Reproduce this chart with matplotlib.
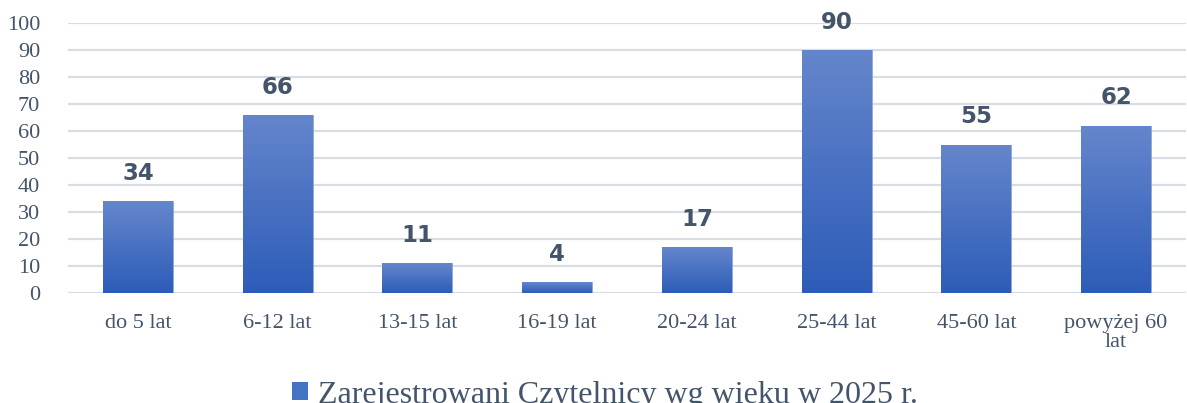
#!/usr/bin/env python3
import numpy as np
import matplotlib
matplotlib.use("Agg")
import matplotlib.pyplot as plt
from matplotlib.colors import LinearSegmentedColormap
from matplotlib.patches import Patch

categories = ["do 5 lat", "6-12 lat", "13-15 lat", "16-19 lat",
              "20-24 lat", "25-44 lat", "45-60 lat", "powyżej 60\nlat"]
readers = [34, 66, 11, 4, 17, 90, 55, 62]
series_name = "Zarejestrowani Czytelnicy wg wieku w 2025 r."
y_ticks = list(range(0, 101, 10))


def main():
    text_color = "#44546a"
    grid_color = "#d9dde3"
    bar_top = "#6586cc"
    bar_bottom = "#2d5cb8"
    cmap = LinearSegmentedColormap.from_list("bar", [bar_bottom, bar_top])

    fig = plt.figure(figsize=(11.87, 4.03), dpi=100)
    ax = fig.add_axes([68 / 1187, 110 / 403, 1118 / 1187, 270 / 403])

    x = np.arange(len(categories))
    bars = ax.bar(x, readers, width=0.5, color="none", zorder=3)

    # vertical gradient inside each bar
    grad = np.linspace(0, 1, 256).reshape(-1, 1)
    for rect in bars:
        x0, y0 = rect.get_x(), rect.get_y()
        w, h = rect.get_width(), rect.get_height()
        im = ax.imshow(grad, cmap=cmap, origin="lower", aspect="auto",
                       extent=(x0, x0 + w, y0, y0 + h), zorder=3)
        im.set_clip_path(rect)
        rect.set_edgecolor("#7f9bd6")
        rect.set_linewidth(0.6)

    for xi, v in zip(x, readers):
        ax.text(xi, v + 6, str(v), ha="center", va="bottom",
                fontsize=16.5, fontweight="bold", color=text_color,
                family="DejaVu Sans")

    ax.set_xlim(-0.5, len(categories) - 0.5)
    ax.set_ylim(0, 100)
    ax.set_yticks(y_ticks)
    ax.set_xticks(x)
    ax.set_xticklabels(categories, fontsize=16, family="Liberation Serif",
                       color=text_color, linespacing=1.0)
    ax.set_yticklabels([str(t) for t in y_ticks], fontsize=16,
                       family="Liberation Serif", color=text_color)
    ax.tick_params(length=0)
    ax.tick_params(axis="y", pad=20)
    ax.tick_params(axis="x", pad=15)
    ax.yaxis.grid(True, color=grid_color, linewidth=1.6, zorder=0)
    ax.set_axisbelow(True)
    for s in ax.spines.values():
        s.set_visible(False)

    handle = Patch(facecolor="#4472c4", edgecolor="none")
    fig.legend([handle], [series_name], loc="center",
               bbox_to_anchor=(605 / 1187, 8 / 403), frameon=False,
               prop={"family": "Liberation Serif", "size": 23},
               labelcolor=text_color, handlelength=0.5, handleheight=0.5,
               handletextpad=0.3)

    fig.savefig("out.png", dpi=100)


if __name__ == "__main__":
    main()
